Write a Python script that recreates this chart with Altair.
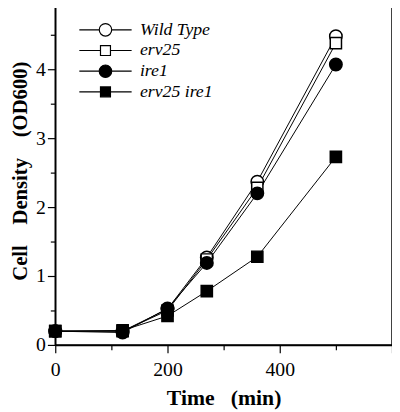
import altair as alt
import pandas as pd

times = [0, 120, 200, 270, 360, 500]
series_names = ["Wild Type", "erv25", "ire1", "erv25 ire1"]
wild_type = [0.20, 0.20, 0.52, 1.27, 2.37, 4.48]
erv25 = [0.20, 0.20, 0.50, 1.24, 2.28, 4.38]
ire1 = [0.20, 0.18, 0.53, 1.19, 2.20, 4.07]
erv25_ire1 = [0.20, 0.21, 0.42, 0.78, 1.28, 2.73]
x_ticks = [0, 100, 200, 300, 400, 500, 600]
y_ticks = [0, 0.5, 1, 1.5, 2, 2.5, 3, 3.5, 4, 4.5]

rows = []
for name, vals in zip(series_names, [wild_type, erv25, ire1, erv25_ire1]):
    for t, v in zip(times, vals):
        rows.append({"time": t, "od": v, "strain": name})
df = pd.DataFrame(rows)

FONT = "Liberation Serif"
NB = "\u00a0"
circle = "M-1,0A1,1,0,1,1,1,0A1,1,0,1,1,-1,0Z"
square = "M-0.9,-0.9H0.9V0.9H-0.9Z"
lc = "M-4.2,0H-1M1,0H4.2M-1,0A1,1,0,1,1,1,0A1,1,0,1,1,-1,0Z"
ls = "M-4.2,0H-0.8M0.8,0H4.2M-0.8,-0.8H0.8V0.8H-0.8Z"
fills = ["white", "white", "black", "black"]

x = alt.X("time:Q", scale=alt.Scale(domain=[0, 600], nice=False, zero=False),
          axis=alt.Axis(values=x_ticks,
                        labelExpr="datum.value % 200 == 0 && datum.value < 600 ? datum.label : ''",
                        title="Time" + NB * 3 + "(min)", grid=False,
                        tickSize={"condition": {"test": "datum.value % 200 == 0", "value": 8}, "value": 5},
                        labelPadding=7, labelFlush=False,
                        titleX=171, titleY=60, titleAlign="center", titleBaseline="alphabetic",
                        titleFontSize=22,
                        labelFont=FONT, labelFontSize=20, titleFont=FONT))
y = alt.Y("od:Q", scale=alt.Scale(domain=[0, 4.93], nice=False),
          axis=alt.Axis(values=y_ticks,
                        labelExpr="datum.value % 1 == 0 ? format(datum.value, 'd') : ''",
                        title="Cell" + NB * 4 + "Density" + NB * 4 + "(OD600)", grid=False,
                        tickSize={"condition": {"test": "datum.value % 1 == 0", "value": 8}, "value": 5},
                        labelPadding=2, labelFlush=False,
                        titleX=-29, titleY=168, titleAngle=270, titleAlign="center",
                        titleBaseline="alphabetic", titleFontSize=21,
                        labelFont=FONT, labelFontSize=20, titleFont=FONT))

lines = alt.Chart(df).mark_line(color="black", strokeWidth=1).encode(
    x=x, y=y, detail="strain:N", order="time:Q")

points = alt.Chart(df).mark_point(stroke="black", strokeWidth=1.5, opacity=1, filled=False).encode(
    x=x, y=y,
    shape=alt.Shape("strain:N", scale=alt.Scale(domain=series_names, range=[circle, square, circle, square]), legend=None),
    fill=alt.Fill("strain:N", scale=alt.Scale(domain=series_names, range=fills), legend=None),
    size=alt.value(160))

def leg():
    return alt.Legend(title=None, orient="none", legendX=42, legendY=16,
                      labelFont=FONT, labelFontSize=18, labelFontStyle="italic",
                      labelColor="black", labelOffset=26, rowPadding=3,
                      symbolOpacity=1, symbolStrokeColor="black",
                      symbolStrokeWidth=1.2, symbolSize=160)

legend_layer = alt.Chart(df).mark_point(strokeWidth=1.5, opacity=0, filled=False).encode(
    x=x, y=y,
    shape=alt.Shape("strain:N", scale=alt.Scale(domain=series_names, range=[lc, ls, lc, ls]), legend=leg()),
    fill=alt.Fill("strain:N", scale=alt.Scale(domain=series_names, range=fills), legend=leg()),
    stroke=alt.Stroke("strain:N", scale=alt.Scale(domain=series_names, range=["black"] * 4), legend=leg()),
    size=alt.value(160))

chart = alt.layer(lines, points, legend_layer).resolve_scale(
    shape="independent", fill="independent", stroke="independent"
).properties(
    width=342, height=345,
    autosize=alt.AutoSizeParams(type="none"),
    padding={"left": 48, "top": -6, "right": 0, "bottom": 70},
).configure_view(stroke="black", strokeWidth=1.5).configure_axis(
    labelFont=FONT, labelFontSize=20, labelColor="black",
    titleFont=FONT, titleFontSize=22, titleFontWeight="bold", titleColor="black",
    domainColor="black", domainWidth=1.5, tickColor="black", tickWidth=1.2,
)

chart.save("out.html", embed_options={"renderer": "svg", "actions": False})
